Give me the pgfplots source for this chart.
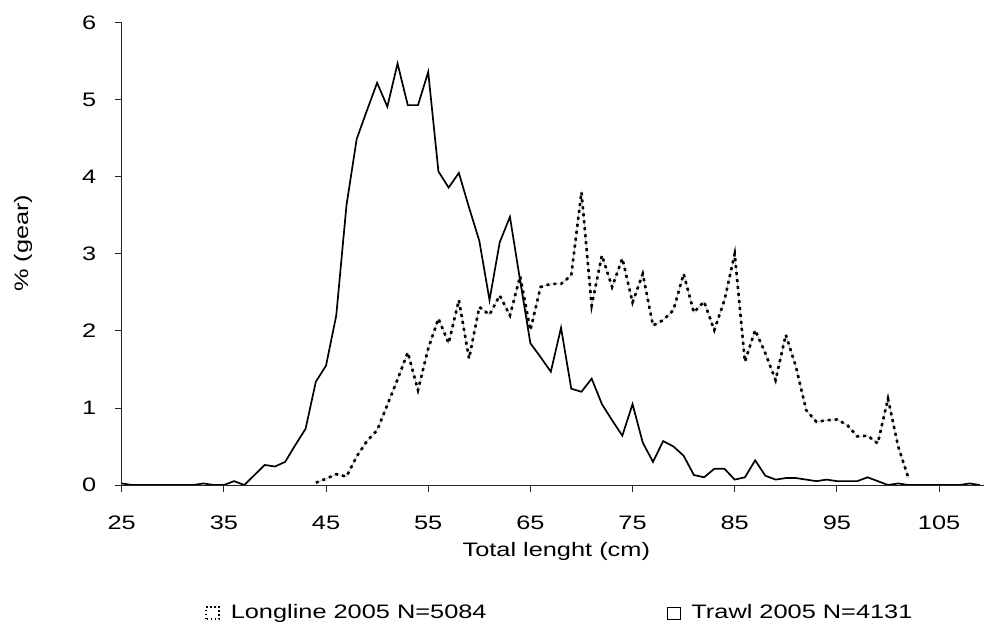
\documentclass[border=0pt]{standalone}
\usepackage{fontspec}
\setmainfont[FakeStretch=1.3]{Liberation Sans}
\usepackage{pgfplots}
\pgfplotsset{compat=1.18}
\newcommand{\chartfont}{\fontsize{19.5}{23}\selectfont}
\pgfplotstableread{
x y
44 0.03
45 0.08
46 0.14
47 0.11
48 0.37
49 0.57
50 0.71
51 1.04
52 1.37
53 1.72
54 1.23
55 1.77
56 2.16
57 1.84
58 2.40
59 1.64
60 2.31
61 2.21
62 2.46
63 2.20
64 2.71
65 2.01
66 2.57
67 2.61
68 2.61
69 2.72
70 3.80
71 2.33
72 2.98
73 2.57
74 2.94
75 2.37
76 2.74
77 2.07
78 2.14
79 2.27
80 2.74
81 2.24
82 2.38
83 2.01
84 2.40
85 3.00
86 1.60
87 2.01
88 1.71
89 1.36
90 1.95
91 1.53
92 0.97
93 0.82
94 0.84
95 0.85
96 0.78
97 0.63
98 0.64
99 0.54
100 1.12
101 0.50
102 0.09
}\longline
\pgfplotstableread{
x y
25 0.02
26 0
27 0
28 0
29 0
30 0
31 0
32 0
33 0.02
34 0
35 0
36 0.05
37 0
38 0.13
39 0.26
40 0.24
41 0.30
42 0.52
43 0.73
44 1.34
45 1.55
46 2.20
47 3.63
48 4.49
49 4.86
50 5.22
51 4.91
52 5.47
53 4.93
54 4.93
55 5.36
56 4.07
57 3.86
58 4.05
59 3.60
60 3.17
61 2.40
62 3.15
63 3.48
64 2.65
65 1.84
66 1.66
67 1.47
68 2.04
69 1.25
70 1.21
71 1.38
72 1.05
73 0.84
74 0.64
75 1.05
76 0.55
77 0.30
78 0.57
79 0.50
80 0.38
81 0.13
82 0.10
83 0.21
84 0.21
85 0.07
86 0.10
87 0.32
88 0.12
89 0.07
90 0.09
91 0.09
92 0.07
93 0.05
94 0.07
95 0.05
96 0.05
97 0.05
98 0.10
99 0.05
100 0
101 0.02
102 0
103 0
104 0
105 0
106 0
107 0
108 0.02
109 0
}\trawl
\begin{document}
\begin{tikzpicture}[x=1pt,y=1pt]
\useasboundingbox (0,0) rectangle (984,631);
\begin{axis}[
  at={(121.7pt,146pt)}, anchor=south west,
  scale only axis, width=862.3pt, height=462.3pt,
  xmin=25, xmax=109.4, ymin=0, ymax=6,
  axis lines=left,
  axis line style={-, black!85, line width=0.8pt},
  xtick={25,35,...,105}, ytick={0,1,...,6},
  tick align=outside, major tick length=7pt,
  tick style={black!85, line width=0.8pt},
  /pgf/number format/assume math mode=true,
  tick label style={font=\chartfont},
  xticklabel style={anchor=base, yshift=-38pt},
  yticklabel style={anchor=east, xshift=-15pt},
  xlabel={Total lenght (cm)},
  ylabel={\% (gear)},
  label style={font=\chartfont},
  xlabel style={at={(axis description cs:0.504,-0.1557)}, anchor=base},
  ylabel style={at={(axis description cs:-0.1145,0.523)}, anchor=center},
  legend columns=2,
  legend style={at={(axis description cs:0.0966,-0.275)}, anchor=west,
    draw=none, fill=none, inner sep=0pt, font=\chartfont,
    nodes={inner sep=0pt},
    /tikz/every odd column/.append style={column sep=11pt},
    /tikz/every even column/.append style={column sep=180pt}},
]
\addplot[gray!70, line width=0.5pt, forget plot] table[x=x, y=y] {\longline};
\addplot[black, line width=2.6pt, dash pattern=on 3pt off 4pt,
  legend image code/.code={\draw[black, line width=1.6pt, dash pattern=on 1.5pt off 2.5pt] (0pt,-7pt) rectangle (13pt,5pt);}]
  table[x=x, y=y] {\longline};
\addlegendentry{Longline 2005 N=5084}
\addplot[black, line width=1.7pt,
  legend image code/.code={\draw[black, line width=0.8pt] (0pt,-7pt) rectangle (13pt,5pt);}]
  table[x=x, y=y] {\trawl};
\addlegendentry{Trawl 2005 N=4131}
\end{axis}
\end{tikzpicture}
\end{document}
